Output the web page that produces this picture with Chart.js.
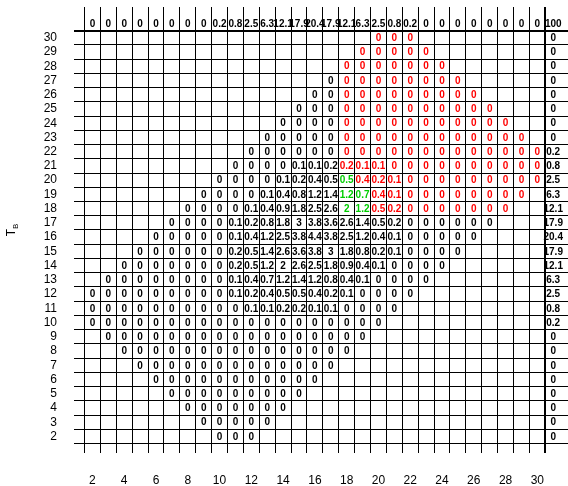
<!DOCTYPE html>
<html>
<head>
<meta charset="utf-8">
<script src="https://cdn.jsdelivr.net/npm/chart.js@4.4.1/dist/chart.umd.min.js"></script>
<style>
  html, body { margin: 0; padding: 0; background: #fff; overflow: hidden; }
  canvas { display: block; }
</style>
</head>
<body>
<canvas id="chart" width="568" height="486"></canvas>
<script>
// T_B rows (left axis), bottom to top
const rows = [2, 3, 4, 5, 6, 7, 8, 9, 10, 11, 12, 13, 14, 15, 16, 17, 18, 19, 20, 21, 22, 23, 24, 25, 26, 27, 28, 29, 30]
const xTicks = [2, 4, 6, 8, 10, 12, 14, 16, 18, 20, 22, 24, 26, 28, 30]

// first filled column of every row (same order as rows)
const rowStart = [10, 9, 8, 7, 6, 5, 4, 3, 2, 2, 2, 3, 4, 5, 6, 7, 8, 9, 10, 11, 12, 13, 14, 15, 16, 17, 18, 19, 20]

// cell values of every row, starting at rowStart
const rowValues = [
  [0, 0, 0],
  [0, 0, 0, 0, 0],
  [0, 0, 0, 0, 0, 0, 0],
  [0, 0, 0, 0, 0, 0, 0, 0, 0],
  [0, 0, 0, 0, 0, 0, 0, 0, 0, 0, 0],
  [0, 0, 0, 0, 0, 0, 0, 0, 0, 0, 0, 0, 0],
  [0, 0, 0, 0, 0, 0, 0, 0, 0, 0, 0, 0, 0, 0, 0],
  [0, 0, 0, 0, 0, 0, 0, 0, 0, 0, 0, 0, 0, 0, 0, 0, 0],
  [0, 0, 0, 0, 0, 0, 0, 0, 0, 0, 0, 0, 0, 0, 0, 0, 0, 0, 0],
  [0, 0, 0, 0, 0, 0, 0, 0, 0, 0, 0.1, 0.1, 0.2, 0.2, 0.1, 0.1, 0, 0, 0, 0],
  [0, 0, 0, 0, 0, 0, 0, 0, 0, 0.1, 0.2, 0.4, 0.5, 0.5, 0.4, 0.2, 0.1, 0, 0, 0, 0],
  [0, 0, 0, 0, 0, 0, 0, 0, 0.1, 0.4, 0.7, 1.2, 1.4, 1.2, 0.8, 0.4, 0.1, 0, 0, 0, 0],
  [0, 0, 0, 0, 0, 0, 0, 0.2, 0.5, 1.2, 2, 2.6, 2.5, 1.8, 0.9, 0.4, 0.1, 0, 0, 0, 0],
  [0, 0, 0, 0, 0, 0, 0.2, 0.5, 1.4, 2.6, 3.6, 3.8, 3, 1.8, 0.8, 0.2, 0.1, 0, 0, 0, 0],
  [0, 0, 0, 0, 0, 0.1, 0.4, 1.2, 2.5, 3.8, 4.4, 3.8, 2.5, 1.2, 0.4, 0.1, 0, 0, 0, 0, 0],
  [0, 0, 0, 0, 0.1, 0.2, 0.8, 1.8, 3, 3.8, 3.6, 2.6, 1.4, 0.5, 0.2, 0, 0, 0, 0, 0, 0],
  [0, 0, 0, 0, 0.1, 0.4, 0.9, 1.8, 2.5, 2.6, 2, 1.2, 0.5, 0.2, 0, 0, 0, 0, 0, 0, 0],
  [0, 0, 0, 0, 0.1, 0.4, 0.8, 1.2, 1.4, 1.2, 0.7, 0.4, 0.1, 0, 0, 0, 0, 0, 0, 0, 0],
  [0, 0, 0, 0, 0.1, 0.2, 0.4, 0.5, 0.5, 0.4, 0.2, 0.1, 0, 0, 0, 0, 0, 0, 0, 0, 0],
  [0, 0, 0, 0, 0.1, 0.1, 0.2, 0.2, 0.1, 0.1, 0, 0, 0, 0, 0, 0, 0, 0, 0, 0],
  [0, 0, 0, 0, 0, 0, 0, 0, 0, 0, 0, 0, 0, 0, 0, 0, 0, 0, 0],
  [0, 0, 0, 0, 0, 0, 0, 0, 0, 0, 0, 0, 0, 0, 0, 0, 0],
  [0, 0, 0, 0, 0, 0, 0, 0, 0, 0, 0, 0, 0, 0, 0],
  [0, 0, 0, 0, 0, 0, 0, 0, 0, 0, 0, 0, 0],
  [0, 0, 0, 0, 0, 0, 0, 0, 0, 0, 0],
  [0, 0, 0, 0, 0, 0, 0, 0, 0],
  [0, 0, 0, 0, 0, 0, 0],
  [0, 0, 0, 0, 0],
  [0, 0, 0]
]

// column sums across the top, columns 2..31 (31 = total)
const headerCols = [2, 3, 4, 5, 6, 7, 8, 9, 10, 11, 12, 13, 14, 15, 16, 17, 18, 19, 20, 21, 22, 23, 24, 25, 26, 27, 28, 29, 30, 31]
const headerValues = [0, 0, 0, 0, 0, 0, 0, 0, 0.2, 0.8, 2.5, 6.3, 12.1, 17.9, 20.4, 17.9, 12.1, 6.3, 2.5, 0.8, 0.2, 0, 0, 0, 0, 0, 0, 0, 0, 100]

// row sums in the right column (same order as rows)
const rowTotals = [0, 0, 0, 0, 0, 0, 0, 0, 0.2, 0.8, 2.5, 6.3, 12.1, 17.9, 20.4, 17.9, 12.1, 6.3, 2.5, 0.8, 0.2, 0, 0, 0, 0, 0, 0, 0, 0]

// highlighted cells [column, row]
const greenCells = [[18, 20], [18, 19], [19, 19], [18, 18], [19, 18]]

const totalCol = 31
const headerRow = 30.95
const gridCols = []
for (let c = 1.5; c <= 30.5; c++) gridCols.push(c)
const gridRows = []
for (let r = 1.5; r <= 30.5; r++) gridRows.push(r)

const BLACK = '#000000'
const RED = '#ff0000'
const GREEN = '#00cd00'

function cellColor(col, row) {
  if (greenCells.some(g => g[0] === col && g[1] === row)) return GREEN
  if (col >= 18 && row >= 18) return RED
  return BLACK
}

// build the points the labels sit on
const cells = []
rows.forEach((row, i) => {
  rowValues[i].forEach((v, j) => {
    const col = rowStart[i] + j
    cells.push({ x: col, y: row, v: v, color: cellColor(col, row) })
  })
  cells.push({ x: totalCol, y: row, v: rowTotals[i], color: BLACK })
})
headerCols.forEach((col, i) => {
  cells.push({ x: col, y: headerRow, v: headerValues[i], color: BLACK })
})

const FONT = '"Liberation Sans", Arial, Helvetica, sans-serif'

const cellText = {
  id: 'cellText',
  afterDatasetsDraw(chart) {
    const ctx = chart.ctx
    const meta = chart.getDatasetMeta(0)
    ctx.save()
    ctx.font = 'bold 10px ' + FONT
    ctx.textAlign = 'center'
    ctx.textBaseline = 'middle'
    meta.data.forEach((el, i) => {
      const raw = chart.data.datasets[0].data[i]
      ctx.fillStyle = raw.color
      ctx.fillText(String(raw.v), el.x, el.y + 0.5)
    })
    ctx.restore()
  }
}

// rotated "T_B" axis title
const axisTitle = {
  id: 'axisTitle',
  afterDraw(chart) {
    const ctx = chart.ctx
    const a = chart.chartArea
    ctx.save()
    ctx.translate(15, (a.top + a.bottom) / 2)
    ctx.rotate(-Math.PI / 2)
    ctx.fillStyle = BLACK
    ctx.textBaseline = 'alphabetic'
    ctx.textAlign = 'left'
    ctx.font = '12px ' + FONT
    const tw = ctx.measureText('T').width
    ctx.font = '8px ' + FONT
    const bw = ctx.measureText('B').width
    const x0 = -(tw + bw) / 2
    ctx.font = '12px ' + FONT
    ctx.fillText('T', x0, 0)
    ctx.font = '8px ' + FONT
    ctx.fillText('B', x0 + tw, 2.5)
    ctx.restore()
  }
}

// fixed axis sizes, no automatic label padding
function fixSize(prop, size) {
  return (scale) => {
    scale[prop] = size
    scale.paddingTop = 0
    scale.paddingBottom = 0
    scale.paddingLeft = 0
    scale.paddingRight = 0
  }
}

const ctx = document.getElementById('chart').getContext('2d')
new Chart(ctx, {
  type: 'scatter',
  data: {
    datasets: [{
      data: cells,
      pointRadius: 0,
      pointHoverRadius: 0
    }]
  },
  options: {
    responsive: false,
    animation: false,
    events: [],
    layout: { autoPadding: false, padding: { top: 7, right: 0, bottom: 0, left: 0 } },
    plugins: {
      legend: { display: false },
      tooltip: { enabled: false }
    },
    scales: {
      x: {
        type: 'linear',
        position: 'bottom',
        min: 0.84,
        max: 31.93,
        afterBuildTicks: (scale) => { scale.ticks = xTicks.map(v => ({ value: v })) },
        afterFit: fixSize('height', 33),
        grid: { display: false, drawTicks: false },
        border: { display: false },
        ticks: {
          autoSkip: false,
          maxRotation: 0,
          padding: 20,
          color: BLACK,
          font: { family: FONT, size: 12 },
          callback: (v) => v
        }
      },
      xg: {
        type: 'linear',
        position: 'bottom',
        min: 0.84,
        max: 31.93,
        afterBuildTicks: (scale) => { scale.ticks = gridCols.map(v => ({ value: v })) },
        afterFit: fixSize('height', 0),
        grid: {
          color: BLACK,
          lineWidth: (c) => c.tick && c.tick.value === 30.5 ? 2 : 1,
          drawTicks: false,
          z: 1
        },
        border: { display: false },
        ticks: { display: false }
      },
      y: {
        type: 'linear',
        position: 'left',
        min: 0.84,
        max: 32.16,
        afterBuildTicks: (scale) => { scale.ticks = rows.map(v => ({ value: v })) },
        afterFit: fixSize('width', 74),
        grid: { display: false, drawTicks: false },
        border: { display: false },
        ticks: {
          autoSkip: false,
          padding: 17,
          color: BLACK,
          font: { family: FONT, size: 12 },
          callback: (v) => v
        }
      },
      yg: {
        type: 'linear',
        position: 'left',
        min: 0.84,
        max: 32.16,
        afterBuildTicks: (scale) => { scale.ticks = gridRows.map(v => ({ value: v })) },
        afterFit: fixSize('width', 0),
        grid: {
          color: BLACK,
          lineWidth: (c) => c.tick && c.tick.value === 30.5 ? 2 : 1,
          drawTicks: false,
          z: 1
        },
        border: { display: false },
        ticks: { display: false }
      }
    }
  },
  plugins: [cellText, axisTitle]
})
</script>
</body>
</html>
